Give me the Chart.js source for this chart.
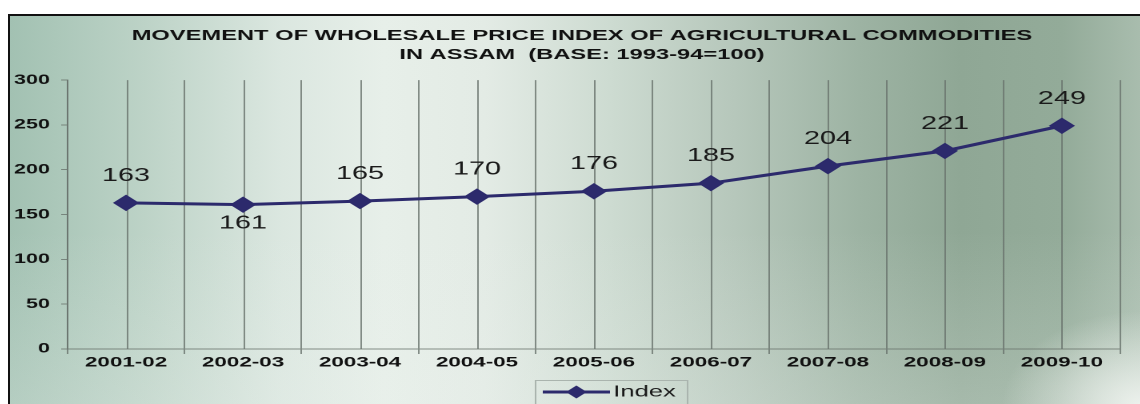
<!DOCTYPE html>
<html>
<head>
<meta charset="utf-8">
<title>Wholesale Price Index - Assam</title>
<script src="https://cdn.jsdelivr.net/npm/chart.js@4.4.0/dist/chart.umd.min.js"></script>
<style>
html, body { margin: 0; padding: 0; background: #fff; overflow: hidden; }
#frame {
    position: absolute; left: 8px; top: 14px; width: 1132px; height: 390px;
    border-left: 2px solid #111; border-top: 2px solid #111; overflow: hidden;
    background:
        radial-gradient(ellipse 140px 95px at 100% 100%, rgba(240,244,240,0.95), rgba(240,244,240,0)),
        linear-gradient(180deg, rgba(255,255,255,0) 55%, rgba(236,242,238,0.25) 100%),
        linear-gradient(90deg, #a2c1b2 0%, #bdd3c7 12%, #dbe7e0 24%, #e7efe9 33%, #e3ebe5 42%, #cddbd1 53%, #b6c7bb 64%, #9db3a3 75%, #8fa795 84%, #93ab99 93%, #a9bdae 100%);
}
#stretch { position: absolute; left: 0; top: 0; width: 715px; height: 390px; transform: scaleX(1.6); transform-origin: 0 0; }
canvas { display: block; }
</style>
</head>
<body>
<div id="frame">
  <div id="stretch"><canvas id="chart" width="715" height="390"></canvas></div>
</div>
<script>
var years = ['2001-02', '2002-03', '2003-04', '2004-05', '2005-06', '2006-07', '2007-08', '2008-09', '2009-10'];
var indexValues = [163, 161, 165, 170, 176, 185, 204, 221, 249];
var titleLines = ['MOVEMENT OF WHOLESALE PRICE INDEX OF AGRICULTURAL COMMODITIES', 'IN ASSAM  (BASE: 1993-94=100)'];
var seriesName = 'Index';

var lineColor = '#2c2a6c';
var gridColor = 'rgba(105,115,109,0.8)';
var fontFamily = '"Liberation Sans", Arial, sans-serif';

// centre the title on the whole canvas rather than the padded box
var fullWidthTitle = {
    id: 'fullWidthTitle',
    afterLayout: function(chart) {
        var t = chart.titleBlock;
        if (!t) return;
        t.left = 0;
        t.right = chart.width;
        t.width = chart.width;
    }
};

// extra grid line through each category centre
var centreLines = {
    id: 'centreLines',
    beforeDatasetsDraw: function(chart) {
        var ctx = chart.ctx, x = chart.scales.x, area = chart.chartArea;
        ctx.save();
        ctx.strokeStyle = gridColor;
        ctx.lineWidth = 1;
        years.forEach(function(y, i) {
            var px = Math.round(x.getPixelForValue(i)) + 0.5;
            ctx.beginPath();
            ctx.moveTo(px, area.top);
            ctx.lineTo(px, area.bottom);
            ctx.stroke();
        });
        ctx.restore();
    }
};

// value labels over the points (under it where the index dropped)
var valueLabels = {
    id: 'valueLabels',
    afterDatasetsDraw: function(chart) {
        var ctx = chart.ctx;
        var meta = chart.getDatasetMeta(0);
        ctx.save();
        ctx.font = '18px ' + fontFamily;
        ctx.fillStyle = '#1a1a1a';
        ctx.textAlign = 'center';
        ctx.textBaseline = 'middle';
        meta.data.forEach(function(pt, i) {
            var v = indexValues[i];
            var below = i > 0 && v < indexValues[i - 1];
            ctx.fillText(String(v), pt.x, pt.y + (below ? 19 : -27));
        });
        ctx.restore();
    }
};

// boxed legend with line + diamond marker
var boxedLegend = {
    id: 'boxedLegend',
    afterDraw: function(chart) {
        var ctx = chart.ctx;
        var left = 328, top = 364, w = 95, h = 40;
        var cx = left + 26, cy = top + 12, r = 6.5;
        ctx.save();
        ctx.strokeStyle = '#aab4ae';
        ctx.lineWidth = 1;
        ctx.strokeRect(left + 0.5, top + 0.5, w, h);
        ctx.strokeStyle = lineColor;
        ctx.lineWidth = 3;
        ctx.beginPath();
        ctx.moveTo(left + 5, cy);
        ctx.lineTo(left + 47, cy);
        ctx.stroke();
        ctx.fillStyle = lineColor;
        ctx.beginPath();
        ctx.moveTo(cx - r, cy);
        ctx.lineTo(cx, cy - r);
        ctx.lineTo(cx + r, cy);
        ctx.lineTo(cx, cy + r);
        ctx.closePath();
        ctx.fill();
        ctx.font = '16px ' + fontFamily;
        ctx.fillStyle = '#1a1a1a';
        ctx.textAlign = 'left';
        ctx.textBaseline = 'middle';
        ctx.fillText(seriesName, left + 49, cy);
        ctx.restore();
    }
};

new Chart(document.getElementById('chart').getContext('2d'), {
    type: 'line',
    data: {
        labels: years,
        datasets: [{
            label: seriesName,
            data: indexValues,
            borderColor: lineColor,
            backgroundColor: lineColor,
            borderWidth: 3,
            pointStyle: 'rectRot',
            pointRadius: 7.5,
            pointBorderWidth: 1,
            pointBorderColor: lineColor,
            pointBackgroundColor: lineColor,
            tension: 0
        }]
    },
    options: {
        responsive: false,
        devicePixelRatio: 2,
        animation: false,
        layout: { padding: { left: 0, right: 21, top: 0, bottom: 27 } },
        plugins: {
            legend: { display: false },
            tooltip: { enabled: false },
            title: {
                display: true,
                text: titleLines,
                color: '#111',
                font: { family: fontFamily, size: 14.8, weight: 'bold', lineHeight: 1.29 },
                padding: { top: 10.5, bottom: 15.4 }
            }
        },
        scales: {
            x: {
                offset: true,
                grid: { offset: true, color: gridColor, tickLength: 5, tickColor: gridColor },
                border: { color: gridColor },
                ticks: { color: '#111', padding: 0, font: { family: fontFamily, size: 14, weight: 'bold' } },
                afterFit: function(scale) { scale.height = 30; }
            },
            y: {
                min: 0,
                max: 300,
                ticks: { stepSize: 50, color: '#111', padding: 7, font: { family: fontFamily, size: 13.5, weight: 'bold' } },
                grid: { drawOnChartArea: false, tickLength: 4, color: gridColor },
                border: { color: gridColor },
                afterFit: function(scale) { scale.width = 36; }
            }
        }
    },
    plugins: [fullWidthTitle, centreLines, valueLabels, boxedLegend]
});
</script>
</body>
</html>
